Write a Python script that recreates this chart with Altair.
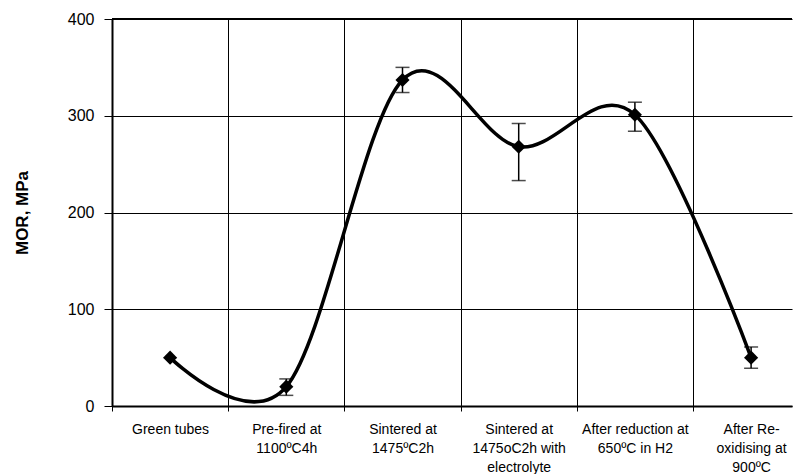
import json
import altair as alt
import pandas as pd

# ---- data ----
categories = [
    "Green tubes",
    "Pre-fired at 1100ºC4h",
    "Sintered at 1475ºC2h",
    "Sintered at 1475oC2h with electrolyte",
    "After reduction at 650ºC in H2",
    "After Re-oxidising at 900ºC",
]
label_lines = [
    ["Green tubes"],
    ["Pre-fired at", "1100ºC4h"],
    ["Sintered at", "1475ºC2h"],
    ["Sintered at", "1475oC2h with", "electrolyte"],
    ["After reduction at", "650ºC in H2"],
    ["After Re-", "oxidising at", "900ºC"],
]
mor = [50, 20, 337, 268, 301, 50]
err_low = [None, 11, 324, 233, 284, 39]
err_high = [None, 28, 350, 292, 314, 61]
y_ticks = [0, 100, 200, 300, 400]

df = pd.DataFrame({
    "category": categories,
    "mor": mor,
    "lo": err_low,
    "hi": err_high,
})
df["pos"] = df.index + 0.5
df_err = df.dropna(subset=["lo", "hi"])

FONT = "Liberation Sans"
W = 680
BAND = 116.2
x_max = W / BAND

x_scale = alt.Scale(domain=[0, x_max], nice=False, zero=False)
y_scale = alt.Scale(domain=[0, 400], nice=False)

label_expr = json.dumps(label_lines) + "[datum.value]"

x_axis = alt.Axis(
    values=[0, 1, 2, 3, 4, 5],
    title=None,
    labelExpr=label_expr,
    labelOffset=BAND / 2,
    labelFont=FONT,
    labelFontSize=14,
    labelColor="black",
    labelLineHeight=19,
    labelPadding=11,
    labelOverlap=False,
    labelFlush=False,
    labelBound=False,
    labelAlign="center",
    tickSize=5,
    tickColor="black",
    tickWidth=1,
    domainColor="black",
    domainWidth=2,
    grid=True,
    gridColor="black",
    gridWidth=1,
    gridOpacity=1,
)
y_axis = alt.Axis(
    values=y_ticks,
    title="MOR, MPa",
    titleFont=FONT,
    titleFontSize=17,
    titleFontWeight="bold",
    titleColor="black",
    titlePadding=36,
    labelFont=FONT,
    labelFontSize=16,
    labelColor="black",
    labelPadding=10,
    tickSize=8,
    tickColor="black",
    tickWidth=1,
    domainColor="black",
    domainWidth=2,
    grid=True,
    gridColor="black",
    gridWidth=1,
    gridOpacity=1,
)

base = alt.Chart(df)

line = base.mark_line(
    interpolate="cardinal", color="black", strokeWidth=3.5, clip=True
).encode(
    x=alt.X("pos:Q", scale=x_scale, axis=x_axis),
    y=alt.Y("mor:Q", scale=y_scale, axis=y_axis),
)

err_rule = alt.Chart(df_err).mark_rule(color="black", strokeWidth=1.5).encode(
    x=alt.X("pos:Q", scale=x_scale),
    y=alt.Y("lo:Q", scale=y_scale),
    y2="hi:Q",
)
cap_lo = alt.Chart(df_err).mark_tick(
    color="black", orient="horizontal", size=14, thickness=1.5
).encode(x=alt.X("pos:Q", scale=x_scale), y=alt.Y("lo:Q", scale=y_scale))
cap_hi = alt.Chart(df_err).mark_tick(
    color="black", orient="horizontal", size=14, thickness=1.5
).encode(x=alt.X("pos:Q", scale=x_scale), y=alt.Y("hi:Q", scale=y_scale))

points = base.mark_point(
    shape="diamond", filled=True, color="black", size=200, opacity=1
).encode(
    x=alt.X("pos:Q", scale=x_scale),
    y=alt.Y("mor:Q", scale=y_scale),
)

top_line = alt.Chart(pd.DataFrame({"v": [400]})).mark_rule(
    color="black", strokeWidth=2
).encode(y=alt.Y("v:Q", scale=y_scale))

chart = alt.layer(line, err_rule, cap_lo, cap_hi, points, top_line).properties(
    width=W,
    height=387,
    padding={"left": 5, "top": 3, "right": 0, "bottom": 0},
    background="white",
).configure_view(stroke=None)

chart.save("out.html", embed_options={"renderer": "svg", "actions": False})
